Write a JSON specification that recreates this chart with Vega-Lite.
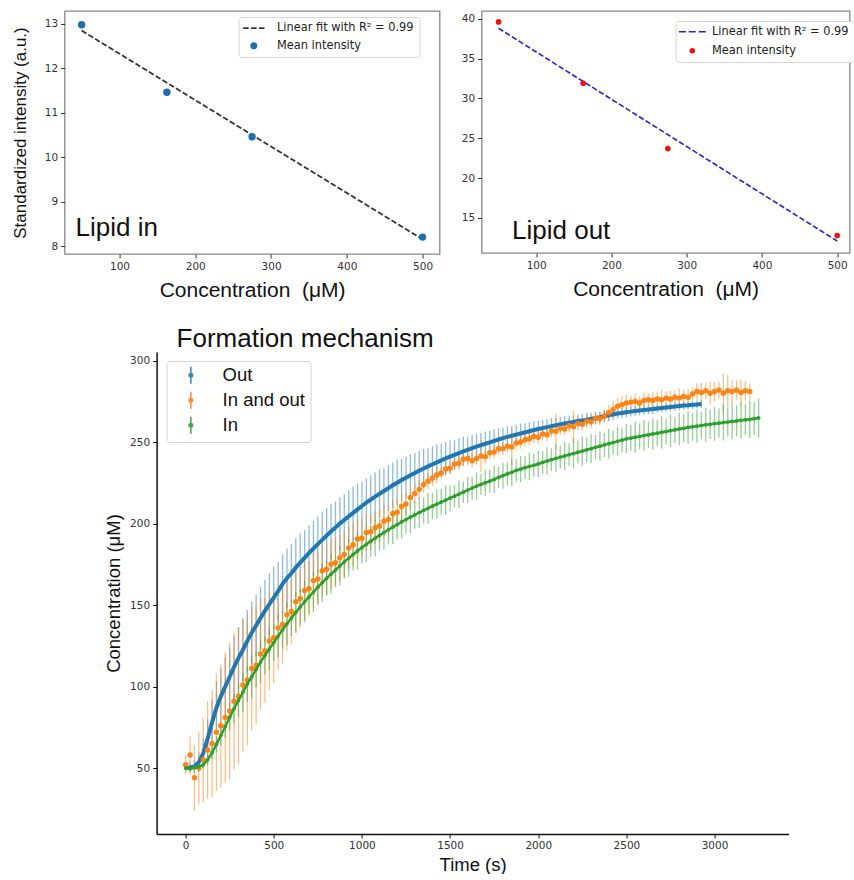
{
"$schema":"https://vega.github.io/schema/vega-lite/v6.json",
"background":"white",
"padding":{"left":9.6,"top":10,"right":0,"bottom":0},
"config":{
 "view":{"stroke":null},
 "axis":{"grid":false,"format":"d","labelFont":"DejaVu Sans","labelFontSize":10.5,"labelColor":"#333","tickColor":"#333","tickSize":4,"labelPadding":3,"titleFont":"Liberation Sans","titleFontWeight":"normal","titleColor":"#111","labelFlush":false}
},
"resolve":{"scale":{"color":"independent","shape":"independent","x":"independent","y":"independent"},"legend":{"color":"independent","shape":"independent"}},
"datasets":{
 "fitIn":[{"x":50,"y":12.85},{"x":500,"y":8.15}],
 "ptsIn":[{"x":50,"y":12.98,"series":"Mean intensity"},{"x":162.5,"y":11.46,"series":"Mean intensity"},{"x":275,"y":10.46,"series":"Mean intensity"},{"x":500,"y":8.2,"series":"Mean intensity"}],
 "labIn":[{"x":42,"y":8.22,"label":"Lipid in"}],
 "fitOut":[{"x":50,"y":38.8},{"x":500,"y":12.1}],
 "ptsOut":[{"x":50,"y":39.6,"series":"Mean intensity"},{"x":162.5,"y":31.9,"series":"Mean intensity"},{"x":275,"y":23.7,"series":"Mean intensity"},{"x":500,"y":12.8,"series":"Mean intensity"}],
 "labOut":[{"x":68,"y":12.37,"label":"Lipid out"}],
 "kin":[
{"s":"Out","t":0,"c":50,"e":2},{"s":"Out","t":25,"c":50.3,"e":3},{"s":"Out","t":50,"c":51,"e":4},{"s":"Out","t":75,"c":53.5,"e":6},{"s":"Out","t":100,"c":59,"e":9},{"s":"Out","t":125,"c":68,"e":12},{"s":"Out","t":150,"c":78,"e":14},{"s":"Out","t":175,"c":87,"e":16},{"s":"Out","t":200,"c":94,"e":17},{"s":"Out","t":225,"c":100,"e":18},{"s":"Out","t":250,"c":106,"e":18},{"s":"Out","t":275,"c":112,"e":19},{"s":"Out","t":300,"c":117.5,"e":19},{"s":"Out","t":325,"c":122.5,"e":19},{"s":"Out","t":350,"c":128,"e":19},{"s":"Out","t":375,"c":133,"e":19},{"s":"Out","t":400,"c":137.5,"e":19},{"s":"Out","t":425,"c":142,"e":19},{"s":"Out","t":450,"c":146.5,"e":19},{"s":"Out","t":475,"c":150.5,"e":19},{"s":"Out","t":500,"c":154.5,"e":19},{"s":"Out","t":525,"c":158.5,"e":18},{"s":"Out","t":550,"c":163,"e":18},{"s":"Out","t":575,"c":166.5,"e":18},{"s":"Out","t":600,"c":169.5,"e":18},{"s":"Out","t":625,"c":173,"e":18},{"s":"Out","t":650,"c":176,"e":18},{"s":"Out","t":675,"c":179,"e":17},{"s":"Out","t":700,"c":182,"e":17},{"s":"Out","t":725,"c":184.7,"e":17},{"s":"Out","t":750,"c":187.4,"e":17},{"s":"Out","t":775,"c":190,"e":17},{"s":"Out","t":800,"c":192.7,"e":17},{"s":"Out","t":825,"c":195.2,"e":17},{"s":"Out","t":850,"c":197.6,"e":16},{"s":"Out","t":875,"c":200,"e":16},{"s":"Out","t":900,"c":202.2,"e":16},{"s":"Out","t":925,"c":204.4,"e":16},{"s":"Out","t":950,"c":206.6,"e":16},{"s":"Out","t":975,"c":208.7,"e":16},{"s":"Out","t":1000,"c":210.8,"e":15},{"s":"Out","t":1025,"c":212.8,"e":15},{"s":"Out","t":1050,"c":214.7,"e":15},{"s":"Out","t":1075,"c":216.5,"e":15},{"s":"Out","t":1100,"c":218.3,"e":15},{"s":"Out","t":1125,"c":220,"e":14},{"s":"Out","t":1150,"c":221.8,"e":14},{"s":"Out","t":1175,"c":223.5,"e":14},{"s":"Out","t":1200,"c":225.1,"e":14},{"s":"Out","t":1225,"c":226.7,"e":13},{"s":"Out","t":1250,"c":228.2,"e":13},{"s":"Out","t":1275,"c":229.7,"e":13},{"s":"Out","t":1300,"c":231.1,"e":12},{"s":"Out","t":1325,"c":232.5,"e":12},{"s":"Out","t":1350,"c":233.8,"e":12},{"s":"Out","t":1375,"c":235.1,"e":11},{"s":"Out","t":1400,"c":236.4,"e":11},{"s":"Out","t":1425,"c":237.6,"e":11},{"s":"Out","t":1450,"c":238.8,"e":10},{"s":"Out","t":1475,"c":240,"e":10},{"s":"Out","t":1500,"c":241.1,"e":10},{"s":"Out","t":1525,"c":242.2,"e":9},{"s":"Out","t":1550,"c":243.3,"e":9},{"s":"Out","t":1575,"c":244.3,"e":9},{"s":"Out","t":1600,"c":245.3,"e":8},{"s":"Out","t":1625,"c":246.3,"e":8},{"s":"Out","t":1650,"c":247.2,"e":8},{"s":"Out","t":1675,"c":248.1,"e":7.5},{"s":"Out","t":1700,"c":249,"e":7.5},{"s":"Out","t":1725,"c":249.9,"e":7},{"s":"Out","t":1750,"c":250.8,"e":7},{"s":"Out","t":1775,"c":251.6,"e":7},{"s":"Out","t":1800,"c":252.4,"e":6.5},{"s":"Out","t":1825,"c":253.2,"e":6.5},{"s":"Out","t":1850,"c":253.9,"e":6},{"s":"Out","t":1875,"c":254.6,"e":6},{"s":"Out","t":1900,"c":255.3,"e":6},{"s":"Out","t":1925,"c":256,"e":5.5},{"s":"Out","t":1950,"c":256.7,"e":5.5},{"s":"Out","t":1975,"c":257.4,"e":5.5},{"s":"Out","t":2000,"c":258,"e":5},{"s":"Out","t":2025,"c":258.6,"e":5},{"s":"Out","t":2050,"c":259.2,"e":5},{"s":"Out","t":2075,"c":259.8,"e":5},{"s":"Out","t":2100,"c":260.3,"e":4.5},{"s":"Out","t":2125,"c":260.9,"e":4.5},{"s":"Out","t":2150,"c":261.4,"e":4.5},{"s":"Out","t":2175,"c":261.9,"e":4.5},{"s":"Out","t":2200,"c":262.4,"e":4},{"s":"Out","t":2225,"c":262.9,"e":4},{"s":"Out","t":2250,"c":263.3,"e":4},{"s":"Out","t":2275,"c":263.8,"e":4},{"s":"Out","t":2300,"c":264.2,"e":4},{"s":"Out","t":2325,"c":264.8,"e":3.5},{"s":"Out","t":2350,"c":265.3,"e":3.5},{"s":"Out","t":2375,"c":265.9,"e":3.5},{"s":"Out","t":2400,"c":266.4,"e":3.5},{"s":"Out","t":2425,"c":267,"e":3.5},{"s":"Out","t":2450,"c":267.5,"e":3},{"s":"Out","t":2475,"c":267.9,"e":3},{"s":"Out","t":2500,"c":268.3,"e":3},{"s":"Out","t":2525,"c":268.7,"e":3},{"s":"Out","t":2550,"c":269.1,"e":3},{"s":"Out","t":2575,"c":269.4,"e":3},{"s":"Out","t":2600,"c":269.7,"e":3},{"s":"Out","t":2625,"c":270,"e":3},{"s":"Out","t":2650,"c":270.3,"e":3},{"s":"Out","t":2675,"c":270.6,"e":2.5},{"s":"Out","t":2700,"c":270.9,"e":2.5},{"s":"Out","t":2725,"c":271.2,"e":2.5},{"s":"Out","t":2750,"c":271.5,"e":2.5},{"s":"Out","t":2775,"c":271.8,"e":2.5},{"s":"Out","t":2800,"c":272.1,"e":2.5},{"s":"Out","t":2825,"c":272.4,"e":2.5},{"s":"Out","t":2850,"c":272.6,"e":2.5},{"s":"Out","t":2875,"c":272.9,"e":2.5},{"s":"Out","t":2900,"c":273.1,"e":2.5},{"s":"Out","t":2925,"c":273.4,"e":2.5},
{"s":"In and out","t":0,"c":52,"e":6},{"s":"In and out","t":25,"c":58,"e":12},{"s":"In and out","t":50,"c":44,"e":20},{"s":"In and out","t":75,"c":50,"e":22},{"s":"In and out","t":100,"c":55,"e":26},{"s":"In and out","t":125,"c":61,"e":30},{"s":"In and out","t":150,"c":65,"e":33},{"s":"In and out","t":175,"c":72,"e":36},{"s":"In and out","t":200,"c":76,"e":38},{"s":"In and out","t":225,"c":81,"e":40},{"s":"In and out","t":250,"c":85,"e":42},{"s":"In and out","t":275,"c":91,"e":42},{"s":"In and out","t":300,"c":94,"e":42},{"s":"In and out","t":325,"c":101,"e":41},{"s":"In and out","t":350,"c":104,"e":40},{"s":"In and out","t":375,"c":111,"e":38},{"s":"In and out","t":400,"c":113,"e":36},{"s":"In and out","t":425,"c":120,"e":34},{"s":"In and out","t":450,"c":122,"e":32},{"s":"In and out","t":475,"c":128,"e":30},{"s":"In and out","t":500,"c":130,"e":28},{"s":"In and out","t":525,"c":136,"e":26},{"s":"In and out","t":550,"c":138,"e":24},{"s":"In and out","t":575,"c":144,"e":22},{"s":"In and out","t":600,"c":146,"e":20},{"s":"In and out","t":625,"c":152,"e":19},{"s":"In and out","t":650,"c":154,"e":18},{"s":"In and out","t":675,"c":159,"e":18},{"s":"In and out","t":700,"c":160,"e":17},{"s":"In and out","t":725,"c":165,"e":17},{"s":"In and out","t":750,"c":166,"e":16},{"s":"In and out","t":775,"c":171,"e":16},{"s":"In and out","t":800,"c":172,"e":16},{"s":"In and out","t":825,"c":175,"e":15},{"s":"In and out","t":850,"c":176,"e":15},{"s":"In and out","t":875,"c":179,"e":14},{"s":"In and out","t":900,"c":181,"e":14},{"s":"In and out","t":925,"c":185,"e":13},{"s":"In and out","t":950,"c":187,"e":13},{"s":"In and out","t":975,"c":190.5,"e":12},{"s":"In and out","t":1000,"c":191,"e":12},{"s":"In and out","t":1025,"c":194.5,"e":11},{"s":"In and out","t":1050,"c":195,"e":11},{"s":"In and out","t":1075,"c":197.5,"e":10},{"s":"In and out","t":1100,"c":198.5,"e":10},{"s":"In and out","t":1125,"c":201.5,"e":10},{"s":"In and out","t":1150,"c":202.5,"e":9},{"s":"In and out","t":1175,"c":206,"e":9},{"s":"In and out","t":1200,"c":207,"e":8},{"s":"In and out","t":1225,"c":210.5,"e":8},{"s":"In and out","t":1250,"c":212,"e":7},{"s":"In and out","t":1275,"c":216,"e":7},{"s":"In and out","t":1300,"c":218.5,"e":6},{"s":"In and out","t":1325,"c":221,"e":6},{"s":"In and out","t":1350,"c":224,"e":5},{"s":"In and out","t":1375,"c":226,"e":5},{"s":"In and out","t":1400,"c":228,"e":5},{"s":"In and out","t":1425,"c":230,"e":5},{"s":"In and out","t":1450,"c":231,"e":4},{"s":"In and out","t":1475,"c":233.5,"e":4},{"s":"In and out","t":1500,"c":234,"e":4},{"s":"In and out","t":1525,"c":236.5,"e":4},{"s":"In and out","t":1550,"c":237,"e":4},{"s":"In and out","t":1575,"c":239.5,"e":4},{"s":"In and out","t":1600,"c":240,"e":4},{"s":"In and out","t":1625,"c":238.5,"e":4},{"s":"In and out","t":1650,"c":240,"e":4},{"s":"In and out","t":1675,"c":241.5,"e":10},{"s":"In and out","t":1700,"c":241,"e":4},{"s":"In and out","t":1725,"c":243.5,"e":4},{"s":"In and out","t":1750,"c":244,"e":4},{"s":"In and out","t":1775,"c":246,"e":4},{"s":"In and out","t":1800,"c":246,"e":4},{"s":"In and out","t":1825,"c":247.5,"e":4},{"s":"In and out","t":1850,"c":247,"e":11},{"s":"In and out","t":1875,"c":249.5,"e":4},{"s":"In and out","t":1900,"c":250,"e":4},{"s":"In and out","t":1925,"c":251.5,"e":4},{"s":"In and out","t":1950,"c":252,"e":4},{"s":"In and out","t":1975,"c":253.5,"e":4},{"s":"In and out","t":2000,"c":253,"e":4},{"s":"In and out","t":2025,"c":255,"e":4},{"s":"In and out","t":2050,"c":254.5,"e":4},{"s":"In and out","t":2075,"c":257,"e":4},{"s":"In and out","t":2100,"c":256.5,"e":11},{"s":"In and out","t":2125,"c":258.5,"e":4},{"s":"In and out","t":2150,"c":258,"e":4},{"s":"In and out","t":2175,"c":260,"e":4},{"s":"In and out","t":2200,"c":259.5,"e":10},{"s":"In and out","t":2225,"c":261.5,"e":4},{"s":"In and out","t":2250,"c":261,"e":4},{"s":"In and out","t":2275,"c":263,"e":4},{"s":"In and out","t":2300,"c":262.5,"e":4},{"s":"In and out","t":2325,"c":264.5,"e":4},{"s":"In and out","t":2350,"c":264.5,"e":4},{"s":"In and out","t":2375,"c":266,"e":4},{"s":"In and out","t":2400,"c":268,"e":5},{"s":"In and out","t":2425,"c":270,"e":5},{"s":"In and out","t":2450,"c":272,"e":5},{"s":"In and out","t":2475,"c":273,"e":5},{"s":"In and out","t":2500,"c":274,"e":5},{"s":"In and out","t":2525,"c":274.5,"e":4},{"s":"In and out","t":2550,"c":275,"e":5},{"s":"In and out","t":2575,"c":274,"e":4},{"s":"In and out","t":2600,"c":275.5,"e":5},{"s":"In and out","t":2625,"c":276,"e":4},{"s":"In and out","t":2650,"c":275.5,"e":5},{"s":"In and out","t":2675,"c":276.5,"e":4},{"s":"In and out","t":2700,"c":276,"e":6},{"s":"In and out","t":2725,"c":277,"e":4},{"s":"In and out","t":2750,"c":276.5,"e":5},{"s":"In and out","t":2775,"c":277.5,"e":4},{"s":"In and out","t":2800,"c":277,"e":6},{"s":"In and out","t":2825,"c":278,"e":4},{"s":"In and out","t":2850,"c":277.5,"e":5},{"s":"In and out","t":2875,"c":279.5,"e":4},{"s":"In and out","t":2900,"c":281,"e":5},{"s":"In and out","t":2925,"c":280.5,"e":6},{"s":"In and out","t":2950,"c":281.5,"e":5},{"s":"In and out","t":2975,"c":280,"e":7},{"s":"In and out","t":3000,"c":281,"e":6},{"s":"In and out","t":3025,"c":282,"e":5},{"s":"In and out","t":3050,"c":280,"e":12},{"s":"In and out","t":3075,"c":281.5,"e":10},{"s":"In and out","t":3100,"c":281,"e":7},{"s":"In and out","t":3125,"c":282,"e":6},{"s":"In and out","t":3150,"c":280.5,"e":8},{"s":"In and out","t":3175,"c":281.5,"e":6},{"s":"In and out","t":3200,"c":281,"e":5},
{"s":"In","t":0,"c":50,"e":1.5},{"s":"In","t":25,"c":49.6,"e":1.5},{"s":"In","t":50,"c":50.2,"e":1.5},{"s":"In","t":75,"c":50.8,"e":2},{"s":"In","t":100,"c":52,"e":2.5},{"s":"In","t":125,"c":55,"e":3},{"s":"In","t":150,"c":59.5,"e":4},{"s":"In","t":175,"c":64.5,"e":5},{"s":"In","t":200,"c":70,"e":6},{"s":"In","t":225,"c":75.5,"e":7},{"s":"In","t":250,"c":81,"e":8},{"s":"In","t":275,"c":86.5,"e":9},{"s":"In","t":300,"c":91.5,"e":10},{"s":"In","t":325,"c":96.5,"e":12},{"s":"In","t":350,"c":101.5,"e":11},{"s":"In","t":375,"c":106,"e":13},{"s":"In","t":400,"c":110.5,"e":11},{"s":"In","t":425,"c":115,"e":13},{"s":"In","t":450,"c":119,"e":11.5},{"s":"In","t":475,"c":123,"e":13},{"s":"In","t":500,"c":127,"e":11},{"s":"In","t":525,"c":131,"e":13},{"s":"In","t":550,"c":134.8,"e":11.5},{"s":"In","t":575,"c":138.5,"e":13},{"s":"In","t":600,"c":142,"e":11},{"s":"In","t":625,"c":145.5,"e":12.5},{"s":"In","t":650,"c":148.8,"e":11},{"s":"In","t":675,"c":152,"e":12.5},{"s":"In","t":700,"c":155,"e":10.5},{"s":"In","t":725,"c":158,"e":12.5},{"s":"In","t":750,"c":161,"e":10.5},{"s":"In","t":775,"c":163.8,"e":12},{"s":"In","t":800,"c":166.5,"e":10.5},{"s":"In","t":825,"c":169,"e":12},{"s":"In","t":850,"c":171.5,"e":10},{"s":"In","t":875,"c":174,"e":12},{"s":"In","t":900,"c":176.5,"e":10},{"s":"In","t":925,"c":178.8,"e":11.5},{"s":"In","t":950,"c":181,"e":10},{"s":"In","t":975,"c":183.2,"e":11.5},{"s":"In","t":1000,"c":185.3,"e":10},{"s":"In","t":1025,"c":187.3,"e":11},{"s":"In","t":1050,"c":189.2,"e":9.5},{"s":"In","t":1075,"c":191,"e":11},{"s":"In","t":1100,"c":192.8,"e":9.5},{"s":"In","t":1125,"c":194.5,"e":10.5},{"s":"In","t":1150,"c":196.2,"e":9},{"s":"In","t":1175,"c":197.8,"e":10.5},{"s":"In","t":1200,"c":199.4,"e":9},{"s":"In","t":1225,"c":201,"e":10},{"s":"In","t":1250,"c":202.5,"e":8.5},{"s":"In","t":1275,"c":204,"e":10},{"s":"In","t":1300,"c":205.4,"e":8.5},{"s":"In","t":1325,"c":206.8,"e":9.5},{"s":"In","t":1350,"c":208.1,"e":8},{"s":"In","t":1375,"c":209.4,"e":9.5},{"s":"In","t":1400,"c":210.7,"e":8},{"s":"In","t":1425,"c":212,"e":9},{"s":"In","t":1450,"c":213.2,"e":8},{"s":"In","t":1475,"c":214.4,"e":9},{"s":"In","t":1500,"c":215.6,"e":8},{"s":"In","t":1525,"c":216.8,"e":7},{"s":"In","t":1550,"c":218.1,"e":8.5},{"s":"In","t":1575,"c":219.3,"e":6.5},{"s":"In","t":1600,"c":220.6,"e":8},{"s":"In","t":1625,"c":221.8,"e":7},{"s":"In","t":1650,"c":223,"e":8.5},{"s":"In","t":1675,"c":224,"e":6.5},{"s":"In","t":1700,"c":225.1,"e":8},{"s":"In","t":1725,"c":226,"e":7},{"s":"In","t":1750,"c":227.1,"e":8.5},{"s":"In","t":1775,"c":228.3,"e":6.5},{"s":"In","t":1800,"c":229.4,"e":8},{"s":"In","t":1825,"c":230.5,"e":7},{"s":"In","t":1850,"c":231.5,"e":8.5},{"s":"In","t":1875,"c":232.6,"e":7},{"s":"In","t":1900,"c":233.5,"e":8},{"s":"In","t":1925,"c":234.3,"e":7},{"s":"In","t":1950,"c":235.1,"e":8.5},{"s":"In","t":1975,"c":235.8,"e":7},{"s":"In","t":2000,"c":236.6,"e":8},{"s":"In","t":2025,"c":237.5,"e":7},{"s":"In","t":2050,"c":238.4,"e":8.5},{"s":"In","t":2075,"c":239.2,"e":7},{"s":"In","t":2100,"c":240,"e":8.5},{"s":"In","t":2125,"c":240.8,"e":7},{"s":"In","t":2150,"c":241.5,"e":8.5},{"s":"In","t":2175,"c":242.3,"e":7},{"s":"In","t":2200,"c":243,"e":9},{"s":"In","t":2225,"c":243.8,"e":7},{"s":"In","t":2250,"c":244.5,"e":9},{"s":"In","t":2275,"c":245.3,"e":7.5},{"s":"In","t":2300,"c":246,"e":9},{"s":"In","t":2325,"c":246.8,"e":7.5},{"s":"In","t":2350,"c":247.5,"e":9},{"s":"In","t":2375,"c":248.3,"e":7.5},{"s":"In","t":2400,"c":249,"e":9},{"s":"In","t":2425,"c":249.7,"e":7.5},{"s":"In","t":2450,"c":250.5,"e":9},{"s":"In","t":2475,"c":251.2,"e":7.5},{"s":"In","t":2500,"c":252,"e":9},{"s":"In","t":2525,"c":252.5,"e":8},{"s":"In","t":2550,"c":253,"e":9.5},{"s":"In","t":2575,"c":253.5,"e":8},{"s":"In","t":2600,"c":254,"e":9.5},{"s":"In","t":2625,"c":254.5,"e":8},{"s":"In","t":2650,"c":255,"e":9.5},{"s":"In","t":2675,"c":255.5,"e":8},{"s":"In","t":2700,"c":256,"e":10},{"s":"In","t":2725,"c":256.5,"e":8},{"s":"In","t":2750,"c":257,"e":10},{"s":"In","t":2775,"c":257.5,"e":8},{"s":"In","t":2800,"c":258,"e":10},{"s":"In","t":2825,"c":258.5,"e":8.5},{"s":"In","t":2850,"c":259,"e":10},{"s":"In","t":2875,"c":259.4,"e":8.5},{"s":"In","t":2900,"c":259.8,"e":10},{"s":"In","t":2925,"c":260.2,"e":8.5},{"s":"In","t":2950,"c":260.6,"e":10.5},{"s":"In","t":2975,"c":260.9,"e":9},{"s":"In","t":3000,"c":261.3,"e":10.5},{"s":"In","t":3025,"c":261.6,"e":9},{"s":"In","t":3050,"c":262,"e":11},{"s":"In","t":3075,"c":262.3,"e":9},{"s":"In","t":3100,"c":262.7,"e":11},{"s":"In","t":3125,"c":263,"e":9.5},{"s":"In","t":3150,"c":263.4,"e":11},{"s":"In","t":3175,"c":263.7,"e":9.5},{"s":"In","t":3200,"c":264,"e":11.5},{"s":"In","t":3225,"c":264.4,"e":10},{"s":"In","t":3250,"c":264.8,"e":12}
 ]
},
"spacing":24,
"vconcat":[
 {"spacing":19,"resolve":{"scale":{"color":"independent","shape":"independent","x":"independent","y":"independent"},"legend":{"color":"independent","shape":"independent"}},"hconcat":[
  {"width":375,"height":243,
   "view":{"stroke":"#888","strokeWidth":1.3},
   "layer":[
    {"data":{"name":"fitIn"},"mark":{"type":"line","strokeDash":[5.5,2.4],"color":"#333","strokeWidth":1.8},
     "encoding":{"x":{"field":"x","type":"quantitative","scale":{"domain":[27.5,522.5],"nice":false,"zero":false},"axis":{"values":[100,200,300,400,500],"domain":false,"title":"Concentration\u00a0 (μM)","titleFontSize":21,"titlePadding":8}},
      "y":{"field":"y","type":"quantitative","scale":{"domain":[7.82,13.29],"nice":false,"zero":false},"axis":{"values":[8,9,10,11,12,13],"domain":false,"title":"Standardized intensity (a.u.)","titleFontSize":17,"titlePadding":15}}}},
    {"data":{"name":"ptsIn"},"mark":{"type":"point","filled":true,"size":55,"opacity":1},
     "encoding":{"x":{"field":"x","type":"quantitative"},"y":{"field":"y","type":"quantitative"},
      "color":{"field":"series","type":"nominal","scale":{"domain":["Linear fit with R² = 0.99","Mean intensity"],"range":["#333333","#1f6fae"]},
       "legend":{"title":null,"orient":"none","legendX":174,"legendY":6,"symbolSize":49,"symbolOffset":4,"labelOffset":17.5,"padding":5.5,"rowPadding":4.5,"labelFont":"DejaVu Sans","labelFontSize":11.4,"labelColor":"#222","fillColor":"white","strokeColor":"#d5d5d5","cornerRadius":3}},
      "shape":{"field":"series","type":"nominal","scale":{"domain":["Linear fit with R² = 0.99","Mean intensity"],"range":["M-3.05,-0.26H-1.48V0.26H-3.05Z M-0.79,-0.26H0.79V0.26H-0.79Z M1.48,-0.26H3.05V0.26H1.48Z","circle"]},"legend":{"title":null,"orient":"none","legendX":174,"legendY":6,"symbolSize":49,"symbolOffset":4,"labelOffset":17.5,"padding":5.5,"rowPadding":4.5,"labelFont":"DejaVu Sans","labelFontSize":11.4,"labelColor":"#222","fillColor":"white","strokeColor":"#d5d5d5","cornerRadius":3}}}},
    {"data":{"name":"labIn"},"mark":{"type":"text","fontSize":26,"align":"left","baseline":"alphabetic","font":"Liberation Sans","color":"#111"},
     "encoding":{"x":{"field":"x","type":"quantitative"},"y":{"field":"y","type":"quantitative"},"text":{"field":"label"}}}
   ]},
  {"width":368,"height":242,
   "view":{"stroke":"#888","strokeWidth":1.3},
   "layer":[
    {"data":{"name":"fitOut"},"mark":{"type":"line","strokeDash":[5.5,2.4],"color":"#2222dd","strokeWidth":1.6},
     "encoding":{"x":{"field":"x","type":"quantitative","scale":{"domain":[27.5,516.5],"nice":false,"zero":false},"axis":{"values":[100,200,300,400,500],"domain":false,"title":"Concentration\u00a0 (μM)","titleFontSize":21,"titlePadding":8}},
      "y":{"field":"y","type":"quantitative","scale":{"domain":[10.6,40.97],"nice":false,"zero":false},"axis":{"values":[15,20,25,30,35,40],"domain":false,"title":null}}}},
    {"data":{"name":"ptsOut"},"mark":{"type":"point","filled":true,"size":32,"opacity":1},
     "encoding":{"x":{"field":"x","type":"quantitative"},"y":{"field":"y","type":"quantitative"},
      "color":{"field":"series","type":"nominal","scale":{"domain":["Linear fit with R² = 0.99","Mean intensity"],"range":["#2222dd","#ee1111"]},
       "legend":{"title":null,"orient":"none","legendX":194,"legendY":10,"symbolSize":30,"symbolOffset":6,"labelOffset":14,"padding":5,"rowPadding":6,"labelFont":"DejaVu Sans","labelFontSize":11.4,"labelColor":"#222","fillColor":"white","strokeColor":"#d5d5d5","cornerRadius":3}},
      "shape":{"field":"series","type":"nominal","scale":{"domain":["Linear fit with R² = 0.99","Mean intensity"],"range":["M-4.9,-0.3H-2.35V0.3H-4.9Z M-1.27,-0.3H1.27V0.3H-1.27Z M2.35,-0.3H4.9V0.3H2.35Z","circle"]},"legend":{"title":null,"orient":"none","legendX":194,"legendY":10,"symbolSize":30,"symbolOffset":6,"labelOffset":14,"padding":5,"rowPadding":6,"labelFont":"DejaVu Sans","labelFontSize":11.4,"labelColor":"#222","fillColor":"white","strokeColor":"#d5d5d5","cornerRadius":3}}}},
    {"data":{"name":"labOut"},"mark":{"type":"text","fontSize":26,"align":"left","baseline":"alphabetic","font":"Liberation Sans","color":"#111"},
     "encoding":{"x":{"field":"x","type":"quantitative"},"y":{"field":"y","type":"quantitative"},"text":{"field":"label"}}}
   ]}
 ]},
 {"spacing":35,"resolve":{"scale":{"color":"independent","x":"independent","y":"independent"},"legend":{"color":"independent"}},"hconcat":[
  {"width":1,"height":1,"data":{"values":[{"a":0}]},"mark":{"type":"point","opacity":0}},
  {"width":632,"height":482,
   "title":{"text":"Formation mechanism","anchor":"start","frame":"group","dx":20,"offset":0,"fontSize":26,"font":"Liberation Sans","fontWeight":"normal","color":"#111"},
   "data":{"name":"kin"},
   "encoding":{
    "x":{"field":"t","type":"quantitative","scale":{"domain":[-164.5,3420],"nice":false,"zero":false},"axis":{"values":[0,500,1000,1500,2000,2500,3000],"title":"Time (s)","titleFontSize":18.5,"titlePadding":4,"domain":true,"domainColor":"#111","domainWidth":1.5,"tickColor":"#111"}},
    "y":{"field":"c","type":"quantitative","scale":{"domain":[9.5,305.3],"nice":false,"zero":false},"axis":{"values":[50,100,150,200,250,300],"title":"Concentration (μM)","titleFontSize":18.5,"titlePadding":6,"domain":true,"domainColor":"#111","domainWidth":1.5,"tickColor":"#111"}},
    "color":{"field":"s","type":"nominal","scale":{"domain":["Out","In and out","In"],"range":["#1f77b4","#ff7f0e","#2ca02c"]},
     "legend":{"title":null,"orient":"none","legendX":10,"legendY":9,"symbolType":"M0,-1.7L0,1.7M-0.35,0A0.35,0.35,0,1,1,0.35,0A0.35,0.35,0,1,1,-0.35,0Z","symbolSize":100,"symbolOffset":10,"labelOffset":22.5,"padding":5,"rowPadding":1,"labelFont":"Liberation Sans","labelFontSize":18.5,"labelColor":"#111","fillColor":"white","strokeColor":"#d5d5d5","cornerRadius":3,"symbolStrokeWidth":1.5,
      "encode":{"symbols":{"update":{"fill":{"signal":"datum.value === 'Out' ? '#1f77b4' : datum.value === 'In and out' ? '#ff7f0e' : '#2ca02c'"},"stroke":{"signal":"datum.value === 'Out' ? '#1f77b4' : datum.value === 'In and out' ? '#ff7f0e' : '#2ca02c'"},"strokeWidth":{"value":1.5},"opacity":{"value":0.9},"size":{"value":100},"shape":{"value":"M0,-1.7L0,1.7M-0.35,0A0.35,0.35,0,1,1,0.35,0A0.35,0.35,0,1,1,-0.35,0Z"}}}}}}
   },
   "layer":[
    {"mark":{"type":"errorbar","rule":{"strokeWidth":1.3,"opacity":0.5}},"encoding":{"yError":{"field":"e"}}},
    {"transform":[{"filter":"datum.s === 'Out'"}],"mark":{"type":"line","strokeWidth":4}},
    {"transform":[{"filter":"datum.s === 'In and out'"}],"mark":{"type":"point","filled":true,"size":30,"opacity":0.95}},
    {"transform":[{"filter":"datum.s === 'In'"}],"mark":{"type":"line","strokeWidth":2.5}},
    {"transform":[{"filter":"datum.s === 'In'"}],"mark":{"type":"point","filled":true,"size":14,"opacity":1}}
   ]}
 ]}
]
}
